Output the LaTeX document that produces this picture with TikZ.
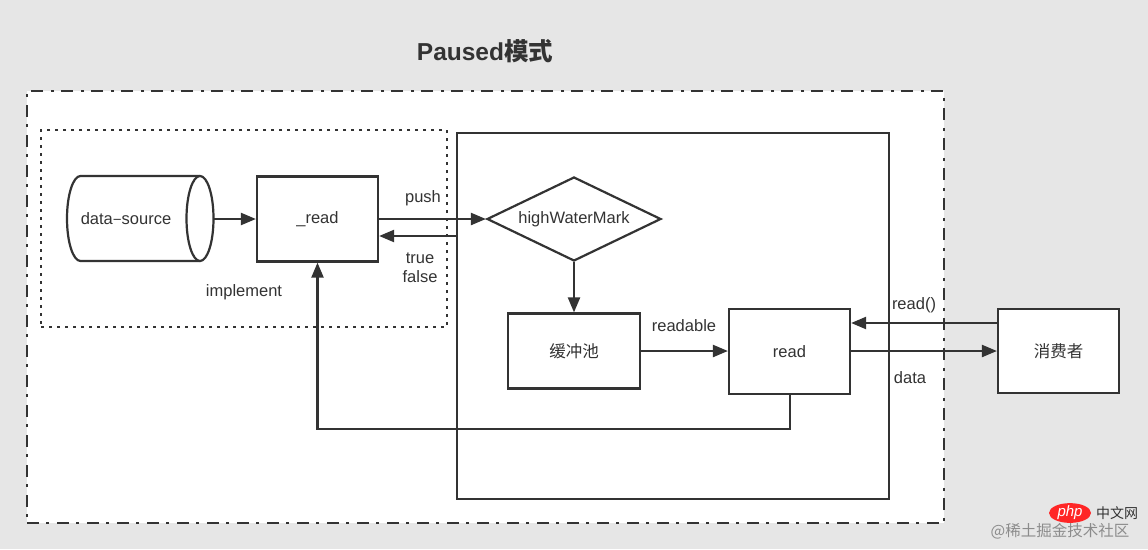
\documentclass[tikz,border=0pt]{standalone}
\usepackage{fontspec}
\setmainfont{Liberation Sans}
\newfontfamily\cjk{Noto Sans CJK SC}
\usetikzlibrary{arrows.meta,shapes.geometric,calc}
\definecolor{ink}{HTML}{333333}
\definecolor{bg}{HTML}{E6E6E6}
\begin{document}
\begin{tikzpicture}[x=1pt,y=-1pt,
  txt/.style={text=ink, font=\fontsize{16.5}{19}\selectfont, inner sep=0pt},
  box/.style={draw=ink, line width=2.2pt, fill=white, txt},
  region/.style={draw=ink, inner sep=0pt},
  arr/.style={draw=ink, line width=2.2pt, -{Triangle[length=15pt,width=12pt]}},
  wire/.style={draw=ink, line width=2.2pt}]
\fill[bg] (0,0) rectangle (1148,549);
\useasboundingbox (0,0) rectangle (1148,549);

% title
\node[txt, font=\fontsize{24.5}{28}\selectfont\bfseries] (title) at (485,51) {Paused{\cjk 模式}};

% containers
\node[region, fill=white, line width=2.6pt, dash pattern=on 12pt off 7pt on 3pt off 8pt,
      minimum width=917pt, minimum height=432pt] (outer) at (485.5,307) {};
\node[region, line width=2.6pt, dash pattern=on 3pt off 5pt,
      minimum width=406pt, minimum height=197pt] (impl) at (244,228.5) {};
\node[region, line width=2.2pt, minimum width=432pt, minimum height=366pt] (inner) at (673,316) {};

% cylinder data-source
\filldraw[draw=ink, fill=white, line width=2.2pt]
  (200,176) -- (80.5,176) arc[start angle=270, end angle=90, x radius=13.5, y radius=42.5] -- (200,261);
\draw[draw=ink, fill=white, line width=2.2pt] (200,218.5) ellipse[x radius=13.5, y radius=42.5];
\node[inner sep=0pt, minimum width=160pt, minimum height=85pt] (ds) at (133.5,219) {};
\node[txt] (dslbl) at (126,219) {data{\cjk –}source};

% nodes
\node[box, minimum width=121pt, minimum height=85pt] (rd) at (317.5,219) {\_read};
\node[draw=ink, line width=2.2pt, fill=white, txt, diamond, aspect=2.07, minimum width=174pt, minimum height=84pt] (hwm) at (574,219) {highWaterMark};
\node[box, minimum width=132pt, minimum height=75pt] (buf) at (574,351) {\cjk 缓冲池};
\node[box, minimum width=121pt, minimum height=85pt] (read) at (789.5,351.5) {read};
\node[box, minimum width=121pt, minimum height=84pt] (cons) at (1058.5,351) {\cjk 消费者};

% connectors
\draw[arr] (ds.east) -- (rd.west);
\draw[arr] (rd.east) -- (hwm.west);
\draw[arr] (inner.west |- 0,236) -- (rd.east |- 0,236);
\draw[arr] (hwm.south) -- (buf.north);
\draw[arr] (buf.east) -- (read.west |- buf.east);
\draw[arr] (cons.west |- 0,323) -- (read.east |- 0,323);
\draw[arr] (read.east |- 0,351) -- (cons.west |- 0,351);
\coordinate (lb) at (790,429);
\draw[arr] (read.south -| lb) -- (lb) -- (rd.south |- lb) -- (rd.south);

% labels
\node[txt] (lpush) at (423,198) {push};
\node[txt] (ltrue) at (420,258) {true};
\node[txt] (lfalse) at (420,277) {false};
\node[txt] (limpl) at (244,292) {implement};
\node[txt] (lreadable) at (684,326) {readable};
\node[txt] (lreadf) at (914,305) {read()};
\node[txt] (ldata) at (910,378) {data};

% watermark
\node[fill=red!85!white, ellipse, minimum width=42pt, minimum height=18pt, inner sep=0pt,
      text=white, font=\fontsize{15}{15}\selectfont\itshape] (wmphp) at (1070,513) {php};
\node[txt, text=ink, font=\fontsize{14}{14}\selectfont\cjk] (wmcn) at (1117,513) {中文网};
\node[txt, text=black!45, font=\fontsize{15.5}{16}\selectfont\cjk] (wmjj) at (1060,531) {@稀土掘金技术社区};
\end{tikzpicture}
\end{document}
